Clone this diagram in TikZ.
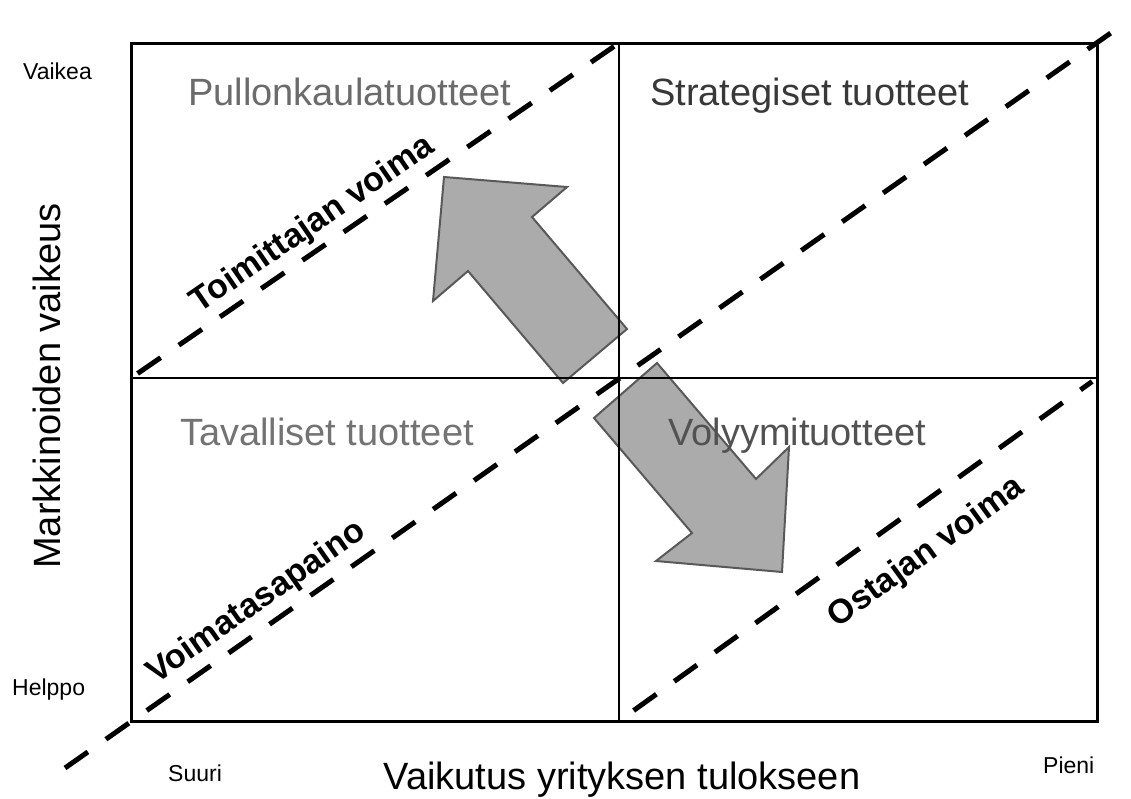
\documentclass[tikz,border=0pt]{standalone}
\usepackage{fontspec}
\setmainfont{Liberation Sans}
\begin{document}
\begin{tikzpicture}[x=1pt,y=-1pt,
  frame/.style={line width=3pt, line cap=rect},
  divider/.style={line width=2.5pt},
  powerline/.style={line width=5pt, dash pattern=on 28pt off 22pt},
  blockarrow/.style={fill=black!33, draw=black!65, line width=2pt, line join=miter},
  quadlabel/.style={font=\fontsize{38}{40}\selectfont, anchor=base west, inner sep=0pt},
  axislabel/.style={font=\fontsize{38}{40}\selectfont, anchor=base, inner sep=0pt},
  endlabel/.style={font=\fontsize{23}{25}\selectfont, anchor=base west, inner sep=0pt},
  powerlabel/.style={font=\bfseries\fontsize{34}{36}\selectfont, anchor=base, inner sep=0pt},
]
\useasboundingbox (0,0) rectangle (1131,798);

% grid corners and midpoints
\coordinate (nw) at (131,43);
\coordinate (ne) at (1097,43);
\coordinate (se) at (1097,721);
\coordinate (sw) at (131,721);
\coordinate (nmid) at (619,43);
\coordinate (smid) at (619,721);
\coordinate (wmid) at (131,378);
\coordinate (emid) at (1097,378);
\coordinate (lowend) at (65,768);
\coordinate (highend) at (1125,23);

% shift of power: towards the supplier and towards the buyer
\draw[blockarrow] (444,177) -- (567,187) -- (532,217) -- (627,329) -- (563,383)
  -- (468,271) -- (433,301) -- cycle;
\draw[blockarrow] (782,572) -- (656,561) -- (692,533) -- (594,418) -- (657,363)
  -- (756,479) -- (789,447) -- cycle;

% portfolio frame
\draw[frame] (nw) rectangle (se);
\draw[divider] (nmid) -- (smid);
\draw[divider] (wmid) -- (emid);

% power lines
\draw[powerline, shorten <=8pt, shorten >=6pt] (wmid) -- (nmid);
\draw[powerline] (lowend) -- (highend);
\draw[powerline, shorten <=18pt, shorten >=6pt] (smid) -- (emid);

% quadrant names
\node[quadlabel, text=black!58] (q1) at (188,105) {Pullonkaulatuotteet};
\node[quadlabel, text=black!78] (q2) at (650,105) {Strategiset tuotteet};
\node[quadlabel, text=black!55] (q3) at (180,445) {Tavalliset tuotteet};
\node[quadlabel, text=black!68] (q4) at (668,445) {Volyymituotteet};

% power labels along the lines
\node[powerlabel, rotate=34.5] (supplier) at (318,232) {Toimittajan voima};
\node[powerlabel, rotate=35] (balance) at (262,610) {Voimatasapaino};
\node[powerlabel, rotate=36] (buyer) at (932,560) {Ostajan voima};

% axes
\node[axislabel, rotate=90] (yaxis) at (60,386) {Markkinoiden vaikeus};
\node[axislabel] (xaxis) at (622,789) {Vaikutus yrityksen tulokseen};
\node[endlabel] (hard) at (23,79) {Vaikea};
\node[endlabel] (easy) at (12,695) {Helppo};
\node[endlabel] (big) at (168,781) {Suuri};
\node[endlabel] (small) at (1043,773) {Pieni};
\end{tikzpicture}
\end{document}
